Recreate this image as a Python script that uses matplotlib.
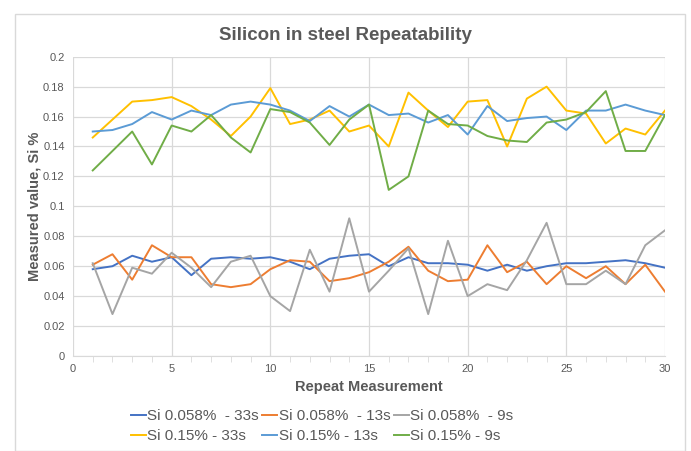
import matplotlib

matplotlib.use("Agg")
import matplotlib.pyplot as plt
import matplotlib.ticker as mticker
from matplotlib.patches import Rectangle

plt.rcParams["font.family"] = ["Liberation Sans", "DejaVu Sans"]

measurement = list(range(1, 31))

si058_33s = [0.058, 0.060, 0.067, 0.063, 0.066, 0.054, 0.065, 0.066, 0.065, 0.066,
             0.063, 0.058, 0.065, 0.067, 0.068, 0.060, 0.066, 0.062, 0.062, 0.061,
             0.057, 0.061, 0.057, 0.060, 0.062, 0.062, 0.063, 0.064, 0.062, 0.059]
si058_13s = [0.061, 0.068, 0.051, 0.074, 0.066, 0.066, 0.048, 0.046, 0.048, 0.058,
             0.064, 0.063, 0.050, 0.052, 0.056, 0.063, 0.073, 0.057, 0.050, 0.051,
             0.074, 0.056, 0.063, 0.048, 0.060, 0.052, 0.060, 0.048, 0.061, 0.043]
si058_9s = [0.062, 0.028, 0.059, 0.055, 0.069, 0.059, 0.046, 0.063, 0.067, 0.040,
            0.030, 0.071, 0.043, 0.092, 0.043, 0.057, 0.072, 0.028, 0.077, 0.040,
            0.048, 0.044, 0.064, 0.089, 0.048, 0.048, 0.057, 0.048, 0.074, 0.084]
si15_33s = [0.146, 0.158, 0.170, 0.171, 0.173, 0.167, 0.158, 0.147, 0.160, 0.179,
            0.155, 0.158, 0.164, 0.150, 0.154, 0.140, 0.176, 0.164, 0.153, 0.170,
            0.171, 0.140, 0.172, 0.180, 0.164, 0.162, 0.142, 0.152, 0.148, 0.164]
si15_13s = [0.150, 0.151, 0.155, 0.163, 0.158, 0.164, 0.161, 0.168, 0.170, 0.168,
            0.164, 0.157, 0.167, 0.160, 0.168, 0.161, 0.162, 0.156, 0.161, 0.148,
            0.167, 0.157, 0.159, 0.160, 0.151, 0.164, 0.164, 0.168, 0.164, 0.161]
si15_9s = [0.124, 0.137, 0.150, 0.128, 0.154, 0.150, 0.161, 0.146, 0.136, 0.165,
           0.163, 0.156, 0.141, 0.158, 0.168, 0.111, 0.120, 0.164, 0.155, 0.154,
           0.147, 0.144, 0.143, 0.156, 0.158, 0.163, 0.177, 0.137, 0.137, 0.161]

series = [
    (si058_33s, "Si 0.058%  - 33s", "#4472C4"),
    (si058_13s, "Si 0.058%  - 13s", "#ED7D31"),
    (si058_9s, "Si 0.058%  - 9s", "#A5A5A5"),
    (si15_33s, "Si 0.15% - 33s", "#FFC000"),
    (si15_13s, "Si 0.15% - 13s", "#5B9BD5"),
    (si15_9s, "Si 0.15% - 9s", "#70AD47"),
]

text_grey = "#595959"
grid_grey = "#D9D9D9"

fig = plt.figure(figsize=(6.91, 4.51), dpi=100)
ax = fig.add_axes([73 / 691, 1 - 356 / 451, 592 / 691, 299.3 / 451])

# light frame round the whole chart
fig.patches.append(
    Rectangle((15 / 691, 0.0), 670 / 691, 1 - 14 / 451, transform=fig.transFigure,
              fill=False, edgecolor=grid_grey, linewidth=1.0)
)

handles = []
for values, label, color in series:
    (line,) = ax.plot(measurement, values, color=color, linewidth=1.4, label=label)
    handles.append(line)

ax.set_xlim(0, 30)
ax.set_ylim(0, 0.2)
ax.xaxis.set_major_locator(mticker.MultipleLocator(5))
ax.xaxis.set_minor_locator(mticker.MultipleLocator(1))
ax.yaxis.set_major_locator(mticker.MultipleLocator(0.02))
ax.yaxis.set_major_formatter(mticker.FuncFormatter(lambda v, _: f"{v:g}"))

ax.grid(True, which="major", color=grid_grey, linewidth=0.9)
ax.set_axisbelow(True)
for side in ["top", "right", "left"]:
    ax.spines[side].set_visible(False)
ax.spines["bottom"].set_color(grid_grey)
ax.tick_params(axis="y", length=0, labelsize=8, labelcolor=text_grey, pad=6)
ax.tick_params(axis="x", which="major", length=0, labelsize=8, labelcolor=text_grey, pad=6)
ax.tick_params(axis="x", which="minor", length=4, color=grid_grey)

ax.set_xlabel("Repeat Measurement", fontsize=10.5, fontweight="bold", color=text_grey, labelpad=4)
ax.set_ylabel("Measured value, Si %", fontsize=10.5, fontweight="bold", color=text_grey, labelpad=1)
fig.text(0.5, 1 - 35 / 451, "Silicon in steel Repeatability", ha="center", va="center",
         fontsize=13.5, fontweight="bold", color=text_grey)

# legend filled row by row
order = [0, 3, 1, 4, 2, 5]
leg = fig.legend(
    [handles[i] for i in order],
    [series[i][1] for i in order],
    loc="center",
    bbox_to_anchor=(322 / 691, 1 - 426 / 451),
    ncol=3,
    frameon=False,
    fontsize=11,
    handlelength=1.0,
    handletextpad=0.1,
    columnspacing=0.2,
    labelspacing=0.4,
)
for text in leg.get_texts():
    text.set_color(text_grey)

fig.savefig("out.png", dpi=100)
